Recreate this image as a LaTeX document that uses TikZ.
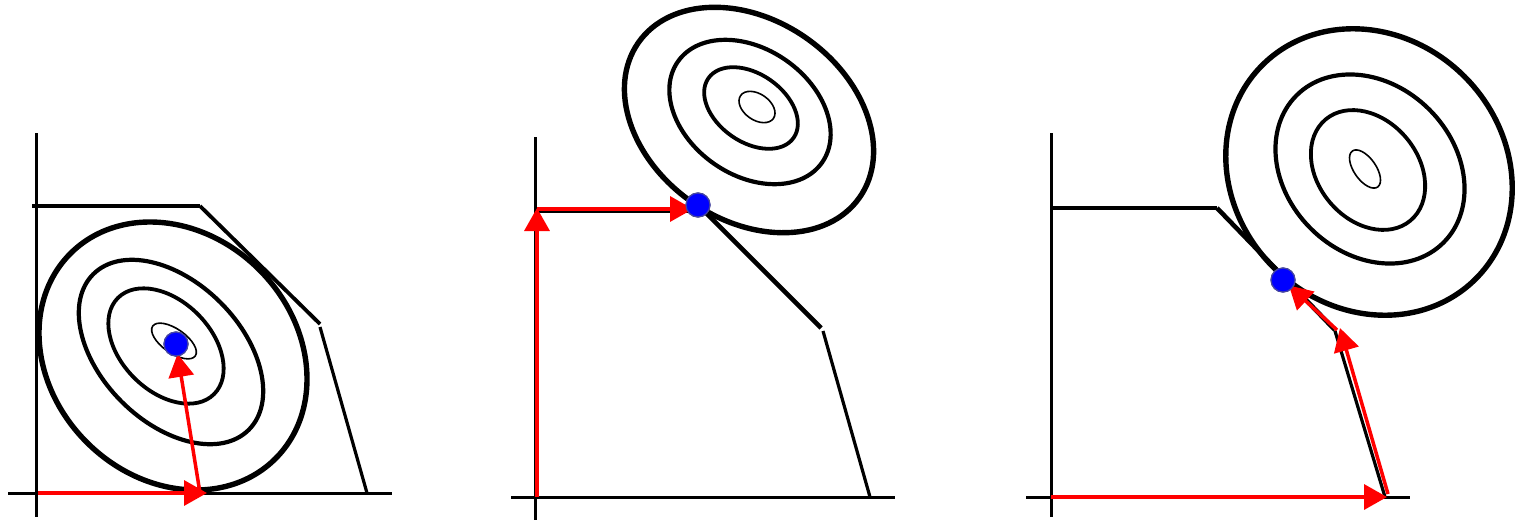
\documentclass[tikz,border=0pt]{standalone}
\usetikzlibrary{arrows.meta}
\definecolor{ptblue}{RGB}{0,0,255}
\definecolor{ptred}{RGB}{255,0,0}
\definecolor{ptedge}{RGB}{70,70,160}
\begin{document}
\begin{tikzpicture}[x=0.5pt,y=-0.5pt,
  axis/.style={line width=1.5pt, black},
  cons/.style={line width=2.3pt, black},
  consdiag/.style={line width=1.9pt, black},
  consthin/.style={line width=1.6pt, black},
  lvlA/.style={line width=2.7pt},
  lvlB/.style={line width=2.1pt},
  lvlC/.style={line width=1.9pt},
  lvlD/.style={line width=0.8pt},
  optdot/.style={circle, fill=ptblue, draw=ptedge, line width=0.6pt, minimum size=12pt, inner sep=0pt},
  redarrow/.style={ptred, line width=1.75pt, -{Triangle[length=11.5pt,width=12.5pt]}},
]
\useasboundingbox (0,0) rectangle (1515,520);

% ---------- panel 1 ----------
\draw[axis] (36,133) -- (36,517);
\draw[axis] (8,493) -- (392,493);
\draw[lvlA, rotate around={-45:(173,356)}] (173,356) ellipse [x radius=145, y radius=122];
\draw[lvlB, rotate around={-45:(171,352)}] (171,352) ellipse [x radius=110, y radius=70];
\draw[lvlC, rotate around={-45:(166,346)}] (166,346) ellipse [x radius=68, y radius=45];
\draw[lvlD, rotate around={-35:(174,341)}] (174,341) ellipse [x radius=26, y radius=12];
\coordinate (a1) at (32,206);
\coordinate (b1) at (200,206);
\coordinate (c1) at (320,324);
\coordinate (c1b) at (320,327);
\coordinate (d1) at (367,493);
\draw[cons] (a1) -- (b1);
\draw[consdiag] (b1) -- (c1);
\draw[consthin] (c1b) -- (d1);
\node[optdot] (dot1) at (176,344) {};
\coordinate (o1) at (38,493);
\coordinate (p1) at (207,493);
\coordinate (q1) at (200,493);
\draw[redarrow] (o1) -- (p1);
\draw[redarrow, shorten >=5pt] (q1) -- (dot1.center);
\node[optdot] at (dot1.center) {};

% ---------- panel 2 ----------
\draw[axis] (535,137) -- (535,520);
\draw[axis] (511,497) -- (895,497);
\draw[lvlA, rotate around={-35:(749,120)}] (749,120) ellipse [x radius=135, y radius=100];
\draw[lvlB, rotate around={-35:(750,112)}] (750,112) ellipse [x radius=88, y radius=63];
\draw[lvlC, rotate around={-35:(751,108)}] (751,108) ellipse [x radius=52, y radius=34];
\draw[lvlD, rotate around={-35:(757,107)}] (757,107) ellipse [x radius=20, y radius=13];
\node[optdot] (dot2) at (698,205) {};
\coordinate (a2) at (535,211);
\coordinate (e2) at (698,211);
\coordinate (c2) at (821,328);
\coordinate (c2b) at (823,331);
\coordinate (d2) at (870,497);
\draw[consthin] (a2) -- (e2);
\draw[cons] (dot2.center) -- (c2);
\draw[consthin] (c2b) -- (d2);
\coordinate (o2) at (537,497);
\coordinate (t2) at (537,208);
\coordinate (s2) at (537,209);
\coordinate (u2) at (693,209);
\draw[redarrow] (o2) -- (t2);
\draw[redarrow] (s2) -- (u2);
\node[optdot] at (dot2.center) {};

% ---------- panel 3 ----------
\draw[axis] (1051,133) -- (1051,517);
\draw[axis] (1026,497) -- (1410,497);
\draw[lvlA, rotate around={-45:(1369,172)}] (1369,172) ellipse [x radius=151, y radius=135];
\draw[lvlB, rotate around={-45:(1370,169)}] (1370,169) ellipse [x radius=104, y radius=84];
\draw[lvlC, rotate around={-50:(1368,170)}] (1368,170) ellipse [x radius=66, y radius=50];
\draw[lvlD, rotate around={-55:(1365,169)}] (1365,169) ellipse [x radius=22, y radius=11];
\coordinate (a3) at (1051,208);
\coordinate (b3) at (1217,208);
\coordinate (c3) at (1335,330);
\coordinate (c3b) at (1335,331);
\coordinate (d3) at (1385,497);
\draw[cons] (a3) -- (b3);
\draw[cons] (b3) -- (c3);
\draw[consthin] (c3b) -- (d3);
\node[optdot] (dot3) at (1283,280) {};
\coordinate (o3) at (1051,497);
\coordinate (p3) at (1387,497);
\coordinate (q3) at (1388,494);
\coordinate (r3) at (1340,328);
\coordinate (s3) at (1337,330);
\draw[redarrow] (o3) -- (p3);
\draw[redarrow] (q3) -- (r3);
\draw[redarrow, shorten >=4pt] (s3) -- (dot3.center);
\node[optdot] at (dot3.center) {};
\end{tikzpicture}
\end{document}
